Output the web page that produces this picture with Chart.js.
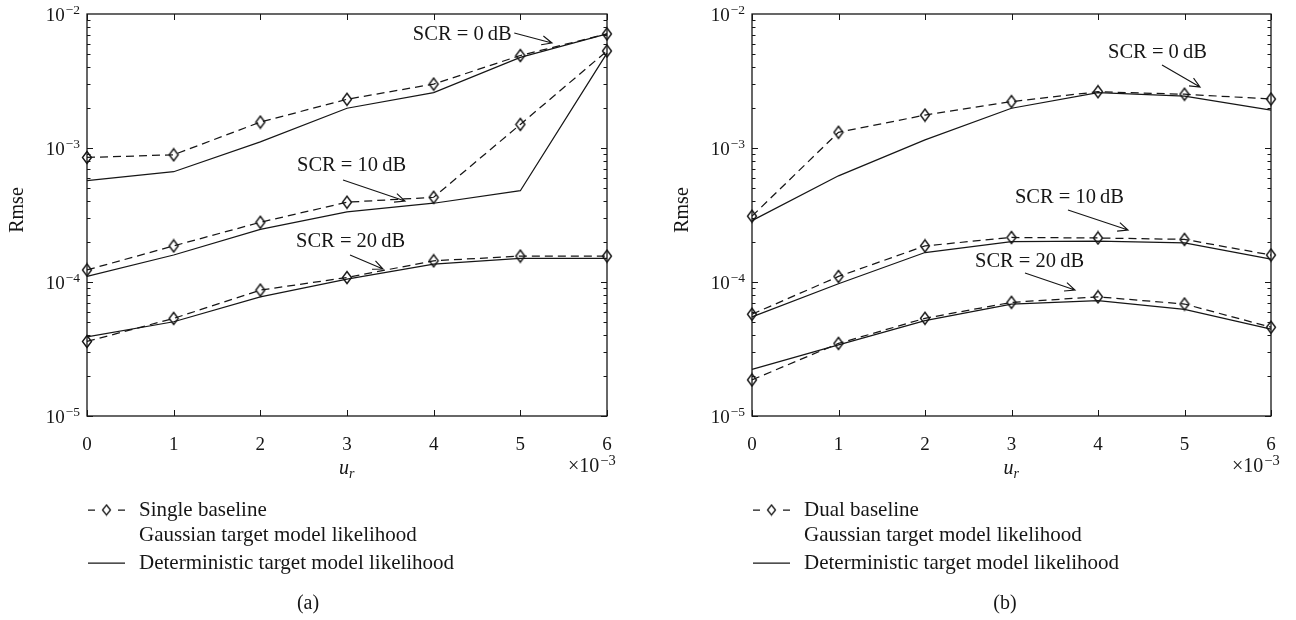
<!DOCTYPE html>
<html>
<head>
<meta charset="utf-8">
<script src="https://cdn.jsdelivr.net/npm/chart.js@4.4.1/dist/chart.umd.min.js"></script>
<style>
  html, body { margin: 0; padding: 0; background: #ffffff; }
  #wrap { position: relative; width: 1296px; height: 620px; overflow: hidden; }
  canvas { position: absolute; top: 0; }
</style>
</head>
<body>
<div id="wrap">
  <canvas id="panelA" width="648" height="620" style="left:0px"></canvas>
  <canvas id="panelB" width="648" height="620" style="left:648px"></canvas>
</div>
<script>
// u_r positions (units of 1e-3) and axis tick labels
const urValues = [0, 1, 2, 3, 4, 5, 6];
const xTickLabels = ['0', '1', '2', '3', '4', '5', '6'];
const yTickExponents = [-5, -4, -3, -2];

// (a) Single baseline — Rmse
const singleGauss0  = [8.5e-4, 8.9e-4, 1.56e-3, 2.31e-3, 3.0e-3, 4.9e-3, 7.1e-3];
const singleDet0    = [5.7e-4, 6.65e-4, 1.11e-3, 1.98e-3, 2.59e-3, 4.75e-3, 7.1e-3];
const singleGauss10 = [1.23e-4, 1.86e-4, 2.79e-4, 3.94e-4, 4.29e-4, 1.5e-3, 5.3e-3];
const singleDet10   = [1.1e-4, 1.59e-4, 2.47e-4, 3.33e-4, 3.87e-4, 4.8e-4, 5.1e-3];
const singleGauss20 = [3.6e-5, 5.35e-5, 8.7e-5, 1.08e-4, 1.44e-4, 1.56e-4, 1.56e-4];
const singleDet20   = [3.9e-5, 5.05e-5, 7.75e-5, 1.05e-4, 1.36e-4, 1.5e-4, 1.5e-4];

// (b) Dual baseline — Rmse
const dualGauss0  = [3.1e-4, 1.31e-3, 1.76e-3, 2.22e-3, 2.63e-3, 2.52e-3, 2.32e-3];
const dualDet0    = [2.87e-4, 6.2e-4, 1.15e-3, 1.98e-3, 2.59e-3, 2.44e-3, 1.92e-3];
const dualGauss10 = [5.75e-5, 1.1e-4, 1.86e-4, 2.15e-4, 2.13e-4, 2.08e-4, 1.59e-4];
const dualDet10   = [5.5e-5, 9.7e-5, 1.66e-4, 2.0e-4, 2.02e-4, 1.96e-4, 1.48e-4];
const dualGauss20 = [1.86e-5, 3.48e-5, 5.36e-5, 7.05e-5, 7.75e-5, 6.85e-5, 4.6e-5];
const dualDet20   = [2.23e-5, 3.4e-5, 5.15e-5, 6.85e-5, 7.25e-5, 6.25e-5, 4.45e-5];

const INK = '#161616';
const SERIF = "'Liberation Serif', 'Times New Roman', serif";

// hollow, slightly tall diamond used as the point marker
function makeDiamond(w, h, lw) {
  const c = document.createElement('canvas');
  c.width = w + 3; c.height = h + 3;
  const g = c.getContext('2d');
  g.strokeStyle = INK; g.lineWidth = lw;
  g.lineJoin = 'miter';
  g.beginPath();
  g.moveTo(c.width / 2, 1.5);
  g.lineTo(c.width - 1.5, c.height / 2);
  g.lineTo(c.width / 2, c.height - 1.5);
  g.lineTo(1.5, c.height / 2);
  g.closePath();
  g.stroke();
  return c;
}
const diamond = makeDiamond(9, 12, 1.4);
const legendDiamond = makeDiamond(8, 10, 1.3);

function series(values) {
  return urValues.map((u, i) => ({ x: u, y: values[i] }));
}

function datasetsFor(pairs) {
  const out = [];
  pairs.forEach(([gauss, det]) => {
    out.push({
      data: series(gauss), borderColor: INK, borderWidth: 1.25, borderDash: [8, 5],
      pointStyle: diamond, pointRadius: 5, pointBorderColor: INK,
      pointBackgroundColor: 'rgba(0,0,0,0)', tension: 0, clip: false, fill: false
    });
    out.push({
      data: series(det), borderColor: INK, borderWidth: 1.25, pointRadius: 0,
      tension: 0, clip: false, fill: false
    });
  });
  return out;
}

function drawArrow(ctx, x1, y1, x2, y2) {
  const ang = Math.atan2(y2 - y1, x2 - x1);
  const hl = 11, spread = 0.42;
  ctx.beginPath();
  ctx.moveTo(x1, y1); ctx.lineTo(x2, y2);
  ctx.moveTo(x2 - hl * Math.cos(ang - spread), y2 - hl * Math.sin(ang - spread));
  ctx.lineTo(x2, y2);
  ctx.lineTo(x2 - hl * Math.cos(ang + spread), y2 - hl * Math.sin(ang + spread));
  ctx.stroke();
}

function powerLabel(ctx, base, exp, x, y, align, baseSize, supSize) {
  ctx.font = baseSize + 'px ' + SERIF;
  const bw = ctx.measureText(base).width;
  ctx.font = supSize + 'px ' + SERIF;
  const sw = ctx.measureText(exp).width;
  const x0 = align === 'right' ? x - bw - sw - 1 : x;
  ctx.textAlign = 'left';
  ctx.textBaseline = 'middle';
  ctx.font = baseSize + 'px ' + SERIF;
  ctx.fillText(base, x0, y + 2);
  ctx.font = supSize + 'px ' + SERIF;
  ctx.fillText(exp, x0 + bw + 1, y - 4);
}

const panelDecor = {
  id: 'panelDecor',
  afterDraw(chart, args, o) {
    const { ctx, chartArea: { left, right, top, bottom }, scales: { x, y } } = chart;
    ctx.save();
    ctx.strokeStyle = INK; ctx.fillStyle = INK; ctx.lineWidth = 1.3;

    // axes box
    ctx.strokeRect(left, top, right - left, bottom - top);

    // inward ticks on all four sides
    ctx.lineWidth = 1;
    ctx.beginPath();
    urValues.forEach(v => {
      const px = Math.round(x.getPixelForValue(v)) + 0.5;
      ctx.moveTo(px, bottom); ctx.lineTo(px, bottom - 6);
      ctx.moveTo(px, top); ctx.lineTo(px, top + 6);
    });
    for (let e = -5; e <= -3; e++) {
      for (let m = 1; m <= 9; m++) {
        const py = Math.round(y.getPixelForValue(m * Math.pow(10, e))) + 0.5;
        const len = m === 1 ? 6 : 3.5;
        ctx.moveTo(left, py); ctx.lineTo(left + len, py);
        ctx.moveTo(right, py); ctx.lineTo(right - len, py);
      }
    }
    ctx.stroke();

    // decade labels 10^k
    yTickExponents.forEach(e => {
      const py = y.getPixelForValue(Math.pow(10, e));
      powerLabel(ctx, '10', '\u2212' + Math.abs(e), left - 7, py, 'right', 19, 13.5);
    });

    // axis multiplier and titles
    powerLabel(ctx, '\u00d710', '\u22123', right - 39, bottom + 49, 'left', 20, 14.5);

    ctx.textBaseline = 'middle';
    ctx.textAlign = 'left';
    const cx = (left + right) / 2;
    ctx.font = 'italic 20px ' + SERIF;
    const uw = ctx.measureText('u').width;
    ctx.fillText('u', cx - uw / 2 - 3, bottom + 53);
    ctx.font = 'italic 14px ' + SERIF;
    ctx.fillText('r', cx + uw / 2 - 3, bottom + 58);

    ctx.save();
    ctx.translate(left - 69, (top + bottom) / 2 - 5);
    ctx.rotate(-Math.PI / 2);
    ctx.textAlign = 'center';
    ctx.font = '20px ' + SERIF;
    ctx.fillText('Rmse', 0, 0);
    ctx.restore();

    // curve annotations with arrows
    ctx.font = '20.5px ' + SERIF;
    ctx.textAlign = 'left';
    ctx.lineWidth = 1.15;
    o.notes.forEach(n => {
      const tx = x.getPixelForValue(n.at[0]);
      const ty = y.getPixelForValue(Math.pow(10, n.at[1]));
      ctx.fillText(n.text, tx, ty);
      drawArrow(ctx,
        x.getPixelForValue(n.from[0]), y.getPixelForValue(Math.pow(10, n.from[1])),
        x.getPixelForValue(n.to[0]), y.getPixelForValue(Math.pow(10, n.to[1])));
    });

    // legend
    const lx = left + 1;
    ctx.lineWidth = 1.25;
    ctx.beginPath();
    ctx.moveTo(lx, bottom + 94); ctx.lineTo(lx + 7, bottom + 94);
    ctx.moveTo(lx + 30, bottom + 94); ctx.lineTo(lx + 37, bottom + 94);
    ctx.moveTo(lx, bottom + 147); ctx.lineTo(lx + 37, bottom + 147);
    ctx.stroke();
    ctx.drawImage(legendDiamond, lx + 18.5 - legendDiamond.width / 2, bottom + 94 - legendDiamond.height / 2);
    ctx.font = '21px ' + SERIF;
    ctx.fillText(o.legendTitle, lx + 51, bottom + 94);
    ctx.fillText('Gaussian target model likelihood', lx + 51, bottom + 119);
    ctx.fillText('Deterministic target model likelihood', lx + 51, bottom + 147);

    ctx.textAlign = 'center';
    ctx.font = '20px ' + SERIF;
    ctx.fillText(o.letter, o.letterX, bottom + 188);
    ctx.restore();
  }
};

function buildPanel(canvasId, spec) {
  return new Chart(document.getElementById(canvasId), {
    type: 'line',
    data: { datasets: datasetsFor(spec.pairs) },
    options: {
      responsive: false, animation: false, devicePixelRatio: 1,
      layout: { padding: { top: 14, right: spec.padRight, left: 0, bottom: 0 } },
      plugins: {
        legend: { display: false }, tooltip: { enabled: false },
        panelDecor: spec.decor
      },
      scales: {
        x: {
          type: 'linear', min: 0, max: 6,
          afterFit: s => { s.height = 204; },
          afterBuildTicks: s => { s.ticks = urValues.map(v => ({ value: v })); },
          ticks: {
            callback: v => xTickLabels[urValues.indexOf(v)],
            font: { family: SERIF, size: 19 }, color: INK, padding: 10,
            maxRotation: 0, autoSkip: false
          },
          grid: { display: false }, border: { display: false }
        },
        y: {
          type: 'logarithmic', min: 1e-5, max: 1e-2,
          afterFit: s => { s.width = spec.axisLeft; },
          ticks: { display: false },
          grid: { display: false }, border: { display: false }
        }
      }
    },
    plugins: [panelDecor]
  });
}

buildPanel('panelA', {
  axisLeft: 87, padRight: 41,
  pairs: [[singleGauss0, singleDet0], [singleGauss10, singleDet10], [singleGauss20, singleDet20]],
  decor: {
    legendTitle: 'Single baseline', letter: '(a)', letterX: 308,
    notes: [
      { text: 'SCR = 0\u2009dB',  at: [3.76, -2.157],  from: [4.93, -2.142],  to: [5.365, -2.216] },
      { text: 'SCR = 10\u2009dB', at: [2.423, -3.134], from: [2.954, -3.239], to: [3.669, -3.396] },
      { text: 'SCR = 20\u2009dB', at: [2.412, -3.701], from: [3.035, -3.799], to: [3.415, -3.903] }
    ]
  }
});

buildPanel('panelB', {
  axisLeft: 104, padRight: 25,
  pairs: [[dualGauss0, dualDet0], [dualGauss10, dualDet10], [dualGauss20, dualDet20]],
  decor: {
    legendTitle: 'Dual baseline', letter: '(b)', letterX: 357,
    notes: [
      { text: 'SCR = 0\u2009dB',  at: [4.116, -2.291], from: [4.74, -2.381],  to: [5.179, -2.545] },
      { text: 'SCR = 10\u2009dB', at: [3.04, -3.373],  from: [3.653, -3.463], to: [4.347, -3.612] },
      { text: 'SCR = 20\u2009dB', at: [2.578, -3.851], from: [3.156, -3.933], to: [3.734, -4.06] }
    ]
  }
});
</script>
</body>
</html>
